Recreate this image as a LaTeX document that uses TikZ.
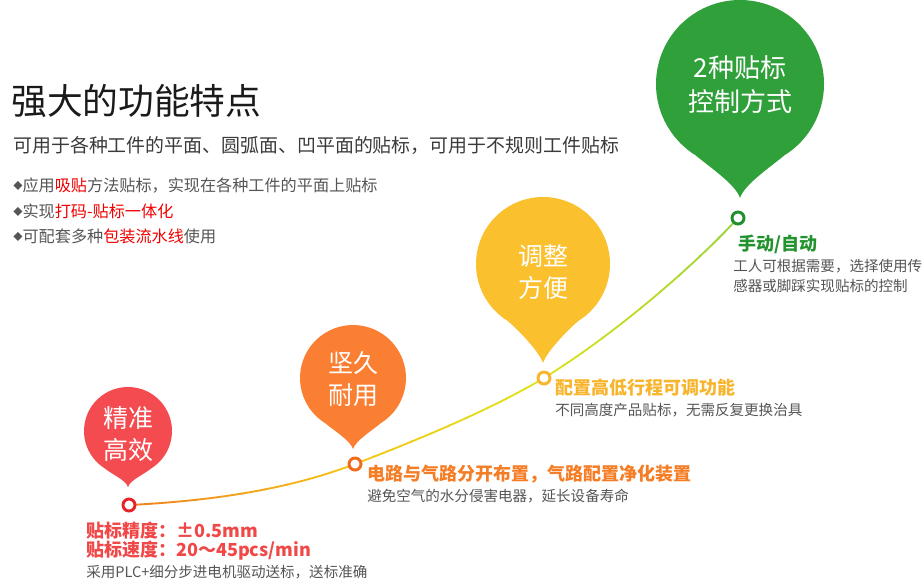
\documentclass[tikz,border=0pt]{standalone}
\usepackage{fontspec}
\setmainfont{Noto Sans CJK SC}
\definecolor{cRed}{HTML}{F34B50}
\definecolor{cOrange}{HTML}{FA7F32}
\definecolor{cYellow}{HTML}{FBC02E}
\definecolor{cGreen}{HTML}{2FA03A}
\definecolor{mRed}{HTML}{E8222A}
\definecolor{mOrange}{HTML}{F26A1B}
\definecolor{mYellow}{HTML}{F9B52C}
\definecolor{mGreen}{HTML}{1F8E2B}
\definecolor{lRed}{HTML}{F04848}
\definecolor{lOrange}{HTML}{F57D25}
\definecolor{lYellow}{HTML}{F7B52E}
\definecolor{lGreen}{HTML}{23932F}
\definecolor{gA}{HTML}{F0801E}
\definecolor{gB}{HTML}{F5C518}
\definecolor{gC}{HTML}{DDE51C}
\definecolor{gD}{HTML}{9BD23A}
\definecolor{tGray}{HTML}{555555}
\definecolor{tSub}{HTML}{3A3A3A}
\definecolor{tTitle}{HTML}{1A1A1A}
\definecolor{hiRed}{HTML}{F00000}
\newcommand{\balloon}[5]{%
  \begin{scope}[shift={(#1,#2)}]
    \fill[#5] (-58:#3) arc[start angle=-58,end angle=238,radius=#3]
      .. controls ({-0.36*#3},{-0.99*#3}) and ({-0.05*#3},{-#4+0.16*#3}) .. (0,{-#4})
      .. controls ({0.05*#3},{-#4+0.16*#3}) and ({0.36*#3},{-0.99*#3}) .. cycle;
  \end{scope}}
\tikzset{
  txt/.style={anchor=west,inner sep=0pt},
  btxt/.style={text=white,align=center,inner sep=0pt,font=\fontsize{18.75pt}{24pt}\selectfont},
  marker/.style={circle,draw=#1,fill=white,line width=2.2pt,minimum size=9pt,inner sep=0pt},
  curveline/.style={line width=1.4pt},
  boldlab/.style={txt,font=\fontsize{13.5pt}{16pt}\selectfont\bfseries},
  graylab/.style={txt,text=tGray,font=\fontsize{10.9pt}{14pt}\selectfont},
  bullet/.style={txt,text=tGray,font=\fontsize{12.1pt}{14pt}\selectfont}
}
\newcommand{\dia}{\raisebox{0.12em}{\fontsize{7pt}{8pt}\selectfont ◆}}
\begin{document}
\begin{tikzpicture}[x=0.75pt,y=0.75pt]
\useasboundingbox (0,0) rectangle (924,-587);
% balloons
\balloon{128}{-431}{44}{56}{cRed}
\balloon{353}{-378}{53}{71}{cOrange}
\balloon{543}{-264}{67}{99}{cYellow}
\balloon{740}{-84}{84}{114}{cGreen}
\node[btxt] (bRed) at (128,-434) {精准\\高效};
\node[btxt] (bOrange) at (353,-379) {坚久\\耐用};
\node[btxt] (bYellow) at (543,-272) {调整\\方便};
\node[btxt,font=\fontsize{19.5pt}{25.5pt}\selectfont] (bGreen) at (740,-85) {2种贴标\\控制方式};
% curve
\coordinate (pA) at (129,-505);
\coordinate (pB) at (355,-464);
\coordinate (pC) at (544,-378);
\coordinate (pD) at (738,-218);
\foreach \xa/\xb/\ca/\cb in {129/355/gA/gB,355/544/gB/gC,544/738/gC/gD}{
  \foreach \k in {0,...,9}{
    \pgfmathsetmacro\xl{\xa+(\xb-\xa)*\k/10-0.6}
    \pgfmathsetmacro\xr{\xa+(\xb-\xa)*(\k+1)/10+0.6}
    \pgfmathsetmacro\pc{100*(\k+0.5)/10}
    \colorlet{bandc}{\cb!\pc!\ca}
    \begin{scope}
      \clip (\xl,0) rectangle (\xr,-587);
      \draw[curveline,bandc] (pA) .. controls (230,-500) and (300,-485) .. (pB)
        .. controls (420,-439) and (490,-410) .. (pC)
        .. controls (612,-336) and (690,-270) .. (pD);
    \end{scope}
  }
}
\node[marker=mRed] (mA) at (pA) {};
\node[marker=mOrange] (mB) at (pB) {};
\node[marker=mYellow] (mC) at (pC) {};
\node[marker=mGreen] (mD) at (pD) {};
% header
\node[txt,text=tTitle,font=\fontsize{26.8pt}{30pt}\selectfont] (title) at (11,-101) {强大的功能特点};
\node[txt,text=tSub,font=\fontsize{14.2pt}{17pt}\selectfont] (sub) at (13,-145) {可用于各种工件的平面、圆弧面、凹平面的贴标，可用于不规则工件贴标};
\node[bullet] (b1) at (13,-185.5) {\dia 应用\textcolor{hiRed}{吸贴}方法贴标，实现在各种工件的平面上贴标};
\node[bullet] (b2) at (13,-211.5) {\dia 实现\textcolor{hiRed}{打码-贴标一体化}};
\node[bullet] (b3) at (13,-236) {\dia 可配套多种\textcolor{hiRed}{包装流水线}使用};
% labels
\node[boldlab,text=lRed] (lr1) at (86,-531) {贴标精度：±0.5mm};
\node[boldlab,text=lRed] (lr2) at (86,-551) {贴标速度：20～45pcs/min};
\node[graylab] (lr3) at (86,-572) {采用PLC+细分步进电机驱动送标，送标准确};
\node[boldlab,text=lOrange] (lo1) at (367,-474) {电路与气路分开布置，气路配置净化装置};
\node[graylab] (lo2) at (367,-496) {避免空气的水分侵害电器，延长设备寿命};
\node[boldlab,text=lYellow] (ly1) at (555,-388) {配置高低行程可调功能};
\node[graylab] (ly2) at (555,-410) {不同高度产品贴标，无需反复更换治具};
\node[boldlab,text=lGreen] (lg1) at (738,-244) {手动/自动};
\node[graylab] (lg2) at (733,-266) {工人可根据需要，选择使用传};
\node[graylab] (lg3) at (733,-286) {感器或脚踩实现贴标的控制};
\end{tikzpicture}
\end{document}
